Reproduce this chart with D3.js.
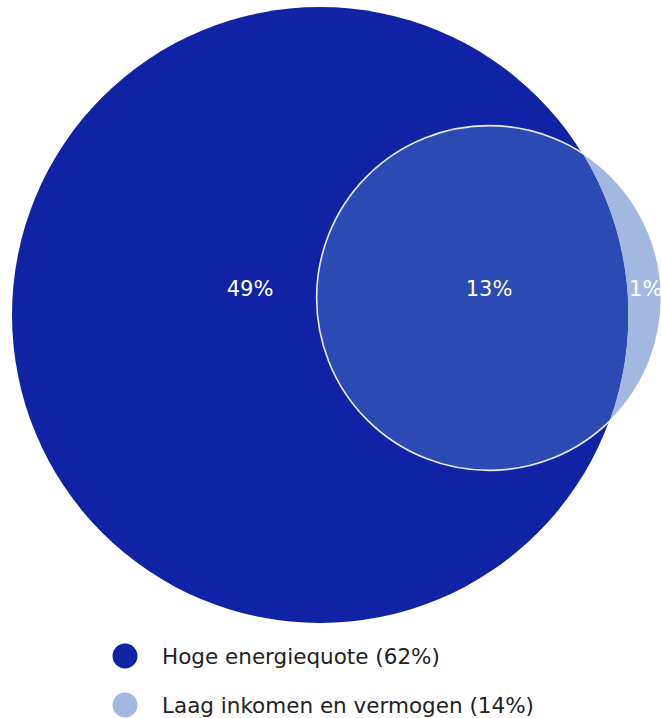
<!DOCTYPE html>
<html>
<head>
<meta charset="utf-8">
<script src="https://cdn.jsdelivr.net/npm/d3@7"></script>
<style>
  body { margin: 0; background: #fff; }
  svg { display: block; }
  text { font-family: "DejaVu Sans", Verdana, sans-serif; }
</style>
</head>
<body>
<div id="fig-venn"><svg width="661" height="718"></svg></div>
<script>
// Venn data
const setNames = ["Hoge energiequote", "Laag inkomen en vermogen"];
const setSizes = [62, 14];
const regionLabels = ["49%", "13%", "1%"];   // only A, overlap, only B

const setColors = ["#1023a5", "#a3b8e0"];
const overlapColor = "#2b4ab4";

const svg = d3.select("#fig-venn svg");

// radius scale (fitted to picture)
const radius = d3.scalePow().exponent(0.39).domain([0, d3.max(setSizes)]).range([0, 308]);

// layout
const centers = [[320, 315], [489, 298]];
const circles = setSizes.map((s, i) => ({
    name: setNames[i], size: s, r: radius(s), cx: centers[i][0], cy: centers[i][1], color: setColors[i]
}));
const a = circles[0], b = circles[1];

svg.append("defs").append("clipPath").attr("id", "clipA")
    .append("circle")
    .attr("cx", a.cx).attr("cy", a.cy).attr("r", a.r);

const plot = svg.append("g");

// set B fill, then set A on top
plot.append("circle")
    .attr("cx", b.cx).attr("cy", b.cy).attr("r", b.r)
    .attr("fill", b.color);
plot.append("circle")
    .attr("cx", a.cx).attr("cy", a.cy).attr("r", a.r)
    .attr("fill", a.color);
// overlap
plot.append("circle")
    .attr("clip-path", "url(#clipA)")
    .attr("cx", b.cx).attr("cy", b.cy).attr("r", b.r)
    .attr("fill", overlapColor);
// white outline of small set
plot.append("circle")
    .attr("cx", b.cx).attr("cy", b.cy).attr("r", b.r)
    .attr("fill", "none")
    .attr("stroke", "#ffffff")
    .attr("stroke-opacity", 0.9)
    .attr("stroke-width", 1.6);

// region labels
const labelY = b.cy - 9;
const labelPos = [
    [a.cx - 70, labelY],
    [b.cx, labelY],
    [(a.cx + a.r + b.cx + b.r) / 2 + 1, labelY]
];
plot.selectAll("text.region")
    .data(regionLabels)
    .enter()
    .append("text")
    .attr("class", "region")
    .attr("x", (d, i) => labelPos[i][0])
    .attr("y", (d, i) => labelPos[i][1])
    .attr("text-anchor", "middle")
    .attr("dominant-baseline", "central")
    .attr("fill", "#ffffff")
    .attr("font-size", 21)
    .text(d => d);

// legend
const legend = svg.append("g").attr("transform", "translate(125, 656)");
const item = legend.selectAll("g")
    .data(circles)
    .enter()
    .append("g")
    .attr("transform", (d, i) => `translate(0, ${i * 49})`);
item.append("circle")
    .attr("r", 12.5)
    .attr("fill", d => d.color);
item.append("text")
    .attr("x", 37)
    .attr("dy", "0.35em")
    .attr("font-size", 21.5)
    .attr("fill", "#222222")
    .text(d => `${d.name} (${d.size}%)`);
</script>
</body>
</html>
